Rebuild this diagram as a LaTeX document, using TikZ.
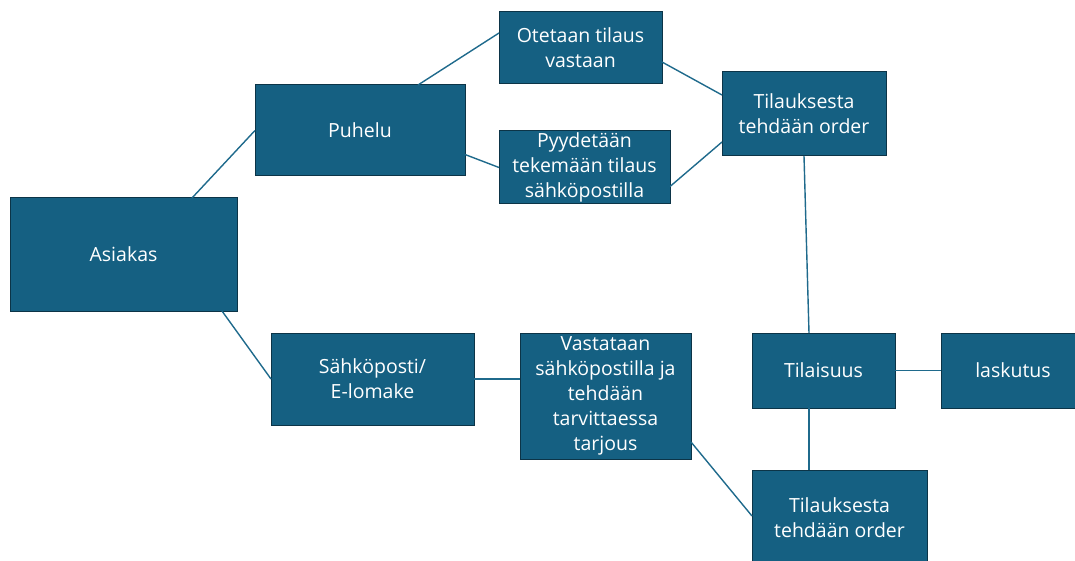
\documentclass[tikz,border=0pt]{standalone}
\usepackage{fontspec}
\setmainfont{Open Sans}
\definecolor{boxfill}{HTML}{156082}
\definecolor{boxline}{HTML}{0C3447}
\definecolor{linkcol}{HTML}{1F6A8C}

\begin{document}
\begin{tikzpicture}[x=1pt, y=-1pt,
    box/.style={rectangle, draw=boxline, fill=boxfill, line width=1pt, text=white,
                align=center, inner sep=0pt, outer sep=0pt,
                font=\fontsize{19.5}{25}\selectfont},
    link/.style={draw=linkcol, line width=1.4pt}]

  \useasboundingbox (0,0) rectangle (1075,561);
  \clip (0,0) rectangle (1075,561);

  % Nodes
  \draw (123.5,254.5) node(A)  [box, minimum width=227, minimum height=113] {Asiakas};
  \draw (360  ,130.5) node(P)  [box, minimum width=210, minimum height=91]  {Puhelu};
  \draw (580.5,48   ) node(O1) [box, minimum width=163, minimum height=72]  {Otetaan tilaus\\vastaan};
  \draw (584.5,167.5) node(O2) [box, minimum width=171, minimum height=73]  {Pyydetään\\tekemään tilaus\\sähköpostilla};
  \draw (804  ,114  ) node(T1) [box, minimum width=164, minimum height=84]  {Tilauksesta\\tehdään order};
  \draw (372.5,379  ) node(S)  [box, minimum width=203, minimum height=92]  {Sähköposti/\\E-lomake};
  \draw (605.5,396  ) node(V)  [box, minimum width=171, minimum height=126] {Vastataan\\sähköpostilla ja\\tehdään\\tarvittaessa\\tarjous};
  \draw (823.5,370.5) node(TL) [box, minimum width=143, minimum height=75]  {Tilaisuus};
  \draw (1013 ,370.5) node(L)  [box, minimum width=144, minimum height=75]  {laskutus};
  \draw (839.5,518  ) node(T2) [box, minimum width=175, minimum height=96]  {Tilauksesta\\tehdään order};

  % Edges
  \path[link] ([xshift=-45]A.north east) edge (P.west);
  \path[link] ([xshift=-47]P.north east) edge ([yshift=15]O1.west);
  \path[link] ([yshift=-24]P.east)       edge (O2.west);
  \path[link] ([yshift=-14]O1.east)      edge ([yshift=19]T1.west);
  \path[link] ([yshift=-19]O2.east)      edge ([yshift=-28]T1.west);
  \path[link] (T1.south)                 edge ([xshift=-14.5]TL.north);
  \path[link] (TL.east)                  edge (L.west);
  \path[link] ([xshift=-14.5]TL.south)   edge ([xshift=-14.5]TL.south |- T2.north);

  \path[link] ([xshift=-15]A.south east) edge (S.west);
  \path[link] (S.east)                   edge (S.east -| V.west);
  \path[link] ([yshift=-46]V.east)       edge ([yshift=2]T2.west);
\end{tikzpicture}
\end{document}
